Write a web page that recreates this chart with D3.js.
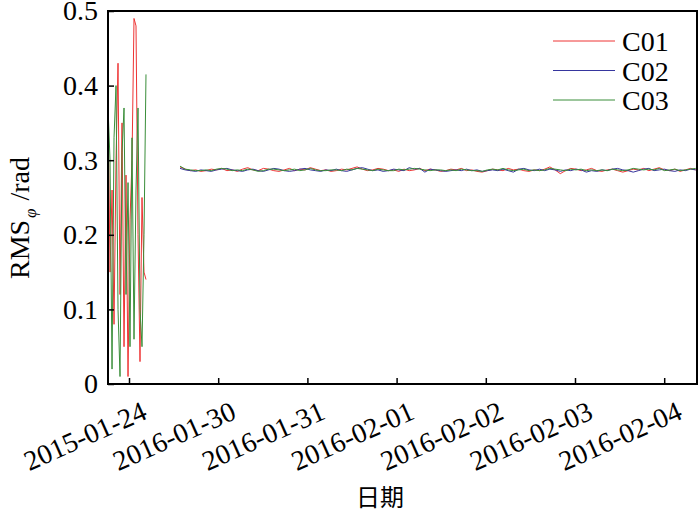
<!DOCTYPE html>
<html><head><meta charset="utf-8">
<script src="https://cdn.jsdelivr.net/npm/d3@7"></script>
<style>body{margin:0;background:#fff}svg{display:block}svg text{font-family:'Liberation Serif','Times New Roman',serif}svg text.cjk{font-family:'Noto Sans CJK SC',sans-serif}</style>
</head><body>
<script>
// ---- data ----
const seriesNames = ["C01", "C02", "C03"];
const seriesColors = ["#ee3434", "#36369e", "#3a8e3a"];
const tickDays = [0, 1, 2, 3, 4, 5, 6];
const tickLabels = ["2015-01-24", "2016-01-30", "2016-01-31", "2016-02-01", "2016-02-02", "2016-02-03", "2016-02-04"];
const yTicks = [0, 0.1, 0.2, 0.3, 0.4, 0.5];

// early segment (2015-01-24), sampled at burstStart + i*burstStep (days on axis)
const burstStart = -0.235, burstStep = 0.0224;
const burstC01 = [0.38,0.15,0.26,0.08,0.30,0.43,0.12,0.35,0.05,0.28,0.01,0.22,0.30,0.49,0.48,0.20,0.03,0.25,0.15,0.14];
const burstC02 = [];
const burstC03 = [0.37,0.30,0.02,0.33,0.40,0.10,0.01,0.31,0.37,0.12,0.27,0.05,0.33,0.06,0.26,0.37,0.10,0.05,0.20,0.415];

// later segment (2016-01-29 .. 2016-02-04), sampled at flatStart + i*flatStep
const flatStart = 0.572, flatStep = 0.0584;
const flatC01 = [0.291,0.288,0.286,0.287,0.285,0.286,0.288,0.287,0.289,0.286,
0.287,0.285,0.288,0.290,0.287,0.286,0.289,0.288,0.286,0.285,
0.287,0.289,0.286,0.288,0.287,0.290,0.288,0.286,0.287,0.285,
0.286,0.288,0.287,0.289,0.291,0.288,0.286,0.287,0.289,0.288,
0.286,0.287,0.285,0.288,0.286,0.287,0.289,0.286,0.288,0.287,
0.285,0.286,0.288,0.287,0.289,0.286,0.287,0.285,0.284,0.286,
0.288,0.287,0.286,0.289,0.287,0.288,0.286,0.285,0.287,0.286,
0.288,0.291,0.287,0.282,0.286,0.289,0.288,0.286,0.287,0.289,
0.286,0.285,0.287,0.288,0.286,0.284,0.286,0.288,0.287,0.289,
0.286,0.288,0.290,0.287,0.286,0.288,0.285,0.287,0.289,0.287];
const flatC02 = [0.289,0.287,0.286,0.285,0.287,0.286,0.285,0.287,0.288,0.289,
0.287,0.286,0.285,0.287,0.288,0.286,0.285,0.287,0.289,0.288,
0.286,0.285,0.286,0.288,0.289,0.287,0.286,0.285,0.287,0.286,
0.288,0.286,0.285,0.287,0.289,0.290,0.288,0.286,0.287,0.285,
0.286,0.288,0.287,0.286,0.290,0.288,0.289,0.284,0.288,0.287,
0.286,0.285,0.286,0.287,0.286,0.288,0.286,0.287,0.285,0.286,
0.287,0.286,0.288,0.286,0.284,0.288,0.289,0.287,0.286,0.288,
0.286,0.288,0.287,0.285,0.287,0.286,0.288,0.287,0.284,0.286,
0.285,0.287,0.286,0.288,0.289,0.287,0.286,0.284,0.286,0.288,
0.289,0.286,0.287,0.288,0.286,0.285,0.287,0.286,0.288,0.287];
const flatC03 = [0.292,0.288,0.287,0.286,0.286,0.287,0.286,0.288,0.289,0.288,
0.286,0.287,0.286,0.288,0.287,0.285,0.286,0.288,0.288,0.287,
0.286,0.287,0.288,0.286,0.287,0.289,0.287,0.286,0.286,0.287,
0.287,0.286,0.288,0.287,0.289,0.288,0.287,0.286,0.288,0.287,
0.286,0.286,0.288,0.287,0.288,0.289,0.288,0.287,0.286,0.287,
0.287,0.286,0.287,0.286,0.288,0.287,0.286,0.286,0.285,0.287,
0.288,0.287,0.289,0.287,0.286,0.287,0.288,0.286,0.287,0.286,
0.287,0.289,0.288,0.287,0.286,0.288,0.287,0.288,0.286,0.287,
0.286,0.287,0.286,0.288,0.287,0.286,0.287,0.289,0.288,0.287,
0.288,0.287,0.289,0.286,0.287,0.288,0.286,0.287,0.288,0.289];

// ---- chart ----
const W = 700, H = 512;
const L = 108, R = 697, T = 11, B = 384;
const svg = d3.select("body").append("svg").attr("width", W).attr("height", H);

const x = d3.scaleLinear().domain([-0.2354, 6.3677]).range([L, R]);
const y = d3.scaleLinear().domain([0, 0.5]).range([B, T]);

svg.append("defs").append("clipPath").attr("id", "clip")
  .append("rect").attr("x", L).attr("y", T).attr("width", R - L).attr("height", B - T);

const line = d3.line().x(d => x(d[0])).y(d => y(d[1]));
const toPts = (arr, s, st) => arr.map((v, i) => [s + i * st, v]);

const bursts = [burstC01, burstC02, burstC03];
const flats = [flatC01, flatC02, flatC03];
const g = svg.append("g").attr("clip-path", "url(#clip)");
seriesNames.forEach((n, k) => {
  [toPts(bursts[k], burstStart, burstStep), toPts(flats[k], flatStart, flatStep)].forEach(pts => {
    if (!pts.length) return;
    g.append("path").attr("d", line(pts)).attr("fill", "none")
      .attr("stroke", seriesColors[k]).attr("stroke-width", 1);
  });
});

// axes
const xAxis = d3.axisBottom(x).tickValues(tickDays).tickSize(-6).tickPadding(8)
  .tickFormat((d, i) => tickLabels[i]);
const gx = svg.append("g").attr("transform", `translate(0,${B})`).call(xAxis);
gx.attr("font-family", null);
gx.select(".domain").remove();
gx.selectAll(".tick line").attr("stroke", "#000").attr("stroke-width", 1.5);
gx.selectAll(".tick text").attr("font-size", 28).attr("fill", "#000")
  .attr("text-anchor", "end").attr("dy", null).attr("y", null)
  .attr("transform", "translate(19,34) rotate(-24)");

const yAxis = d3.axisLeft(y).tickValues(yTicks).tickSize(-6).tickPadding(10)
  .tickFormat(d => d === 0 ? "0" : d3.format(".1f")(d));
const gy = svg.append("g").attr("transform", `translate(${L},0)`).call(yAxis);
gy.attr("font-family", null);
gy.select(".domain").remove();
gy.selectAll(".tick line").attr("stroke", "#000").attr("stroke-width", 1.5);
gy.selectAll(".tick text").attr("font-size", 28).attr("fill", "#000");

// frame
svg.append("rect").attr("x", L).attr("y", T).attr("width", R - L).attr("height", B - T)
  .attr("fill", "none").attr("stroke", "#000").attr("stroke-width", 2);

// legend
const lg = svg.append("g");
seriesNames.forEach((n, k) => {
  const yy = 41 + k * 29.5;
  lg.append("line").attr("x1", 553).attr("x2", 615).attr("y1", yy).attr("y2", yy)
    .attr("stroke", seriesColors[k]).attr("stroke-width", 1);
  lg.append("text").attr("x", 622).attr("y", yy + 10).attr("font-size", 28).text(n);
});

// axis titles
svg.append("text").attr("class", "cjk").attr("x", 380).attr("y", 506).attr("text-anchor", "middle")
  .attr("font-size", 24).text("日期");

const yt = svg.append("text").attr("transform", "translate(29,218) rotate(-90)")
  .attr("text-anchor", "middle").attr("font-size", 28);
yt.append("tspan").text("RMS");
yt.append("tspan").attr("font-size", 17).attr("font-style", "italic").attr("dy", 7).attr("dx", 2).text("φ");
yt.append("tspan").attr("dy", -7).attr("dx", 8).text("/rad");
</script>
</body></html>
